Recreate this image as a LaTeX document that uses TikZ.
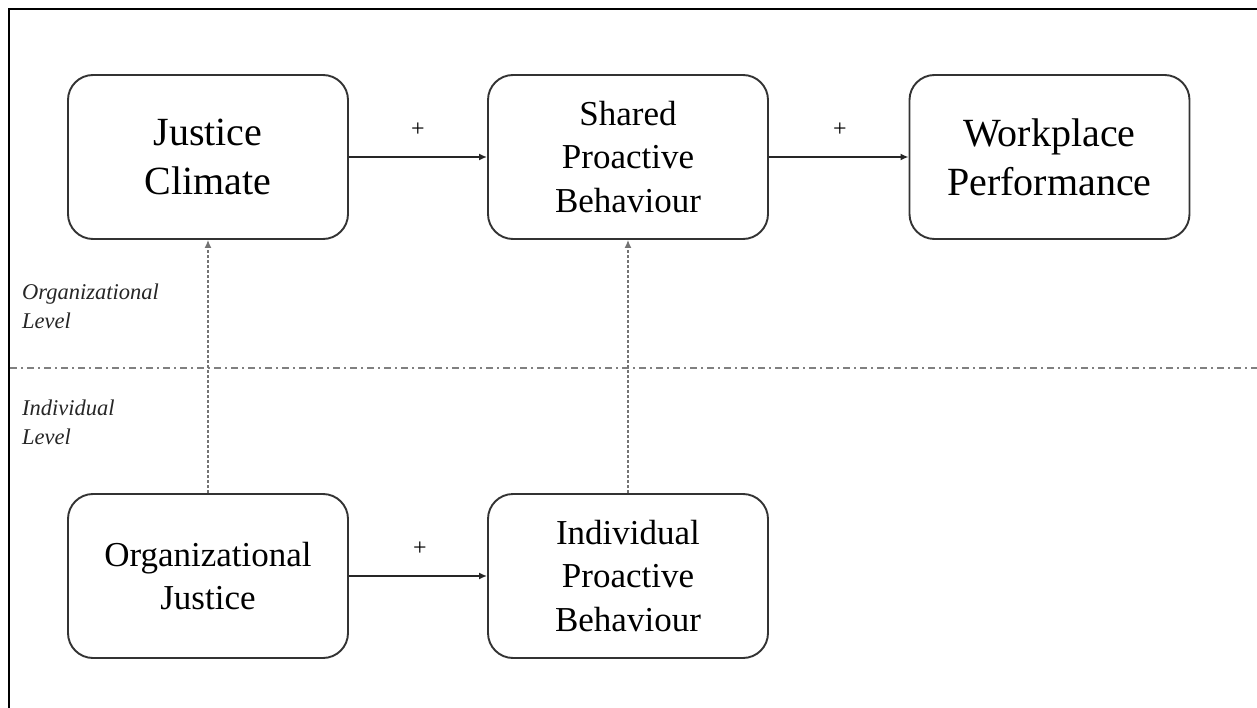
\documentclass[tikz,border=0pt]{standalone}
\usepackage{fontspec}
\setmainfont{Liberation Serif}
\usetikzlibrary{arrows.meta}
\begin{document}
\begin{tikzpicture}[x=1pt,y=-1pt,
  box/.style={draw=black!80, line width=1.9pt, rounded corners=25pt, minimum width=280pt, minimum height=164pt, align=center, inner sep=0pt},
  bigtxt/.style={font=\fontsize{40}{49}\selectfont},
  midtxt/.style={font=\fontsize{35}{43.5}\selectfont},
  lvl/.style={font=\itshape\fontsize{22.5}{28.5}\selectfont, align=left, inner sep=0pt, anchor=base west, text=black!85},
  plus/.style={font=\fontsize{24}{24}\selectfont, inner sep=0pt},
  solidarrow/.style={draw=black!85, line width=2pt, -{Latex[length=8pt,width=7pt]}},
  dotarrow/.style={draw=black!55, line width=1.4pt, dash pattern=on 3pt off 2pt, -{Latex[length=8pt,width=7pt]}},
]
\useasboundingbox (0,0) rectangle (1257,708);
\draw[line width=2.4pt] (9,708) -- (9,9) -- (1257,9);
\draw[draw=black!50, line width=1.4pt, dash pattern=on 7pt off 4pt on 2pt off 4pt] (10,368) -- (1257,368);

\node[box, bigtxt] (jc) at (208,157) {Justice\\Climate};
\node[box, midtxt] (spb) at (628,157) {Shared\\Proactive\\Behaviour};
\node[box, bigtxt] (wp) at (1049.5,157) {Workplace\\Performance};
\node[box, midtxt] (oj) at (208,576) {Organizational\\Justice};
\node[box, midtxt] (ipb) at (628,576) {Individual\\Proactive\\Behaviour};

\draw[solidarrow] (jc.east) -- (spb.west);
\draw[solidarrow] (spb.east) -- (wp.west);
\draw[solidarrow] (oj.east) -- (ipb.west);
\draw[dotarrow] (oj.north) -- (jc.south);
\draw[dotarrow] (ipb.north) -- (spb.south);

\node[plus] (p1) at (418,130) {+};
\node[plus] (p2) at (840,130) {+};
\node[plus] (p3) at (420,549) {+};

\node[lvl] (ol) at (22,328) {Organizational\\Level};
\node[lvl] (il) at (22,444) {Individual\\Level};
\end{tikzpicture}
\end{document}
